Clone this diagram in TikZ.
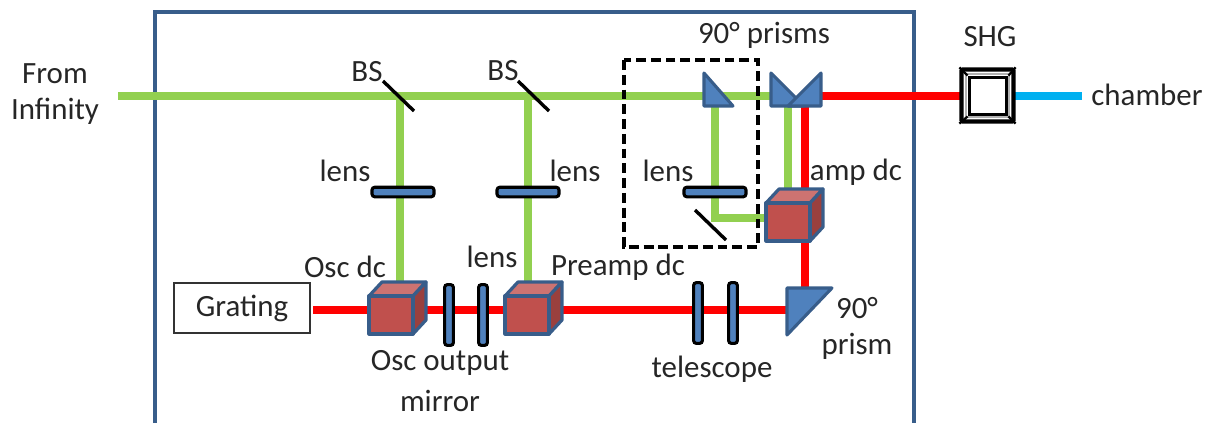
\documentclass[tikz,border=0pt]{standalone}
\usepackage{fontspec}
\setmainfont{Carlito}
\definecolor{grb}{HTML}{92D050}
\definecolor{rdb}{HTML}{FF0000}
\definecolor{blb}{HTML}{00B0F0}
\definecolor{frame}{HTML}{385D8A}
\definecolor{glass}{HTML}{4F81BD}
\definecolor{cubef}{HTML}{C0504D}
\definecolor{cubet}{HTML}{CD7371}
\definecolor{cubes}{HTML}{9A403E}
\definecolor{txt}{HTML}{262626}
\tikzset{
    beam/.style={line width=5pt},
    lbl/.style={font=\fontsize{22}{24}\selectfont,text=txt,inner sep=0pt},
    lensh/.style={draw=black,fill=glass,line width=2.2pt,rounded corners=2pt,minimum width=1.55cm,minimum height=0.24cm,inner sep=0pt},
    lensv/.style={draw=black,fill=glass,line width=2.2pt,rounded corners=2pt,minimum width=0.22cm,minimum height=1.52cm,inner sep=0pt},
    prism/.style={draw=frame,fill=glass,line width=2.2pt,line join=round},
    splitter/.style={black,line width=2.4pt}
}
\newcommand{\dccube}[1]{
    \begin{scope}[shift={(#1)},draw=frame,line width=2.3pt,line join=round]
        \filldraw[fill=cubet] (-22,-19) -- (-9,-33) -- (35,-33) -- (22,-19) -- cycle;
        \filldraw[fill=cubes] (22,-19) -- (35,-33) -- (35,5) -- (22,19) -- cycle;
        \filldraw[fill=cubef] (-22,-19) rectangle (22,19);
    \end{scope}
}
\begin{document}
\begin{tikzpicture}[x=0.025cm,y=-0.025cm]
            \useasboundingbox (0,0) rectangle (1206,423);
            \draw[frame,line width=2.4pt] (155,423) -- (155,12) -- (914,12) -- (914,423);

            % points on the beams
            \coordinate (infinity) at (118,96);
            \coordinate (bsa) at (400,96);
            \coordinate (bsb) at (528,96);
            \coordinate (pickoff) at (715,96);
            \coordinate (pairin) at (775,96);
            \coordinate (pairout) at (818,96);
            \coordinate (shgin) at (962,96);
            \coordinate (shgout) at (1013,96);
            \coordinate (blueend) at (1082,96);
            \coordinate (osctop) at (400,285);
            \coordinate (pretop) at (528,285);
            \coordinate (foldmid) at (715,218);
            \coordinate (ampin) at (770,218);
            \coordinate (pairdown) at (788,104);
            \coordinate (amptop) at (788,190);
            \coordinate (pairred) at (805,104);
            \coordinate (foldred) at (805,300);
            \coordinate (gratout) at (313,310);
            \coordinate (foldin) at (790,310);
            \coordinate (osc) at (391,315);
            \coordinate (pre) at (527,315);
            \coordinate (amp) at (788,222);

            \draw[beam,grb] (infinity) -- (bsa) -- (bsb) -- (pickoff) -- (pairin);
            \draw[beam,grb] (bsa) -- (osctop);
            \draw[beam,grb] (bsb) -- (pretop);
            \draw[beam,grb] (pickoff) -- (foldmid) -- (ampin);
            \draw[beam,grb] (pairdown) -- (amptop);
            \draw[beam,rdb] (pairout) -- (shgin);
            \draw[beam,blb] (shgout) -- (blueend);
            \draw[beam,rdb] (pairred) -- (foldred);
            \draw[beam,rdb] (gratout) -- (foldin);

            % beam splitters and fold mirror
            \draw[splitter] (383,81) coordinate (bsatop) -- (414,111) coordinate (bsabot);
            \draw[splitter] (518,81) coordinate (bsbtop) -- (549,111) coordinate (bsbbot);
            \draw[splitter] (695,210) coordinate (foldtop) -- (726,240) coordinate (foldbot);

            \node[lensh] (lensosc) at (403,192) {};
            \node[lensh] (lenspre) at (528,192) {};
            \node[lensh] (lensamp) at (715,192) {};
            \node[lensv] (mirrora) at (449,315) {};
            \node[lensv] (mirrorb) at (483,315) {};
            \node[lensv] (telea) at (698,313) {};
            \node[lensv] (teleb) at (733,313) {};

            % prisms
            \draw[prism] (704,73) -- (704,106) -- (733,106) -- cycle;
            \draw[prism] (771,73) -- (771,106) -- (804,106) -- cycle;
            \draw[prism] (821,73) -- (821,106) -- (788,106) -- cycle;
            \draw[prism] (787,288) -- (832,288) -- (787,335) -- cycle;

            \dccube{osc}
            \dccube{pre}
            \dccube{amp}

            \draw[black,line width=2.4pt,dash pattern=on 7pt off 3.5pt] (624,60) rectangle (758,247);

            % SHG crystal
            \node[draw=black,fill=white,line width=3pt,rounded corners=1pt,minimum size=1.3cm,inner sep=0pt] (shg) at (987.5,95.5) {};
            \draw[black!30,line width=1.2pt] (966,74) rectangle (1009,117);
            \node[draw=black,fill=white,line width=2.6pt,minimum size=0.93cm,inner sep=0pt] (shgcore) at (988,96) {};
            \draw[black,line width=1.6pt] (shg.north west) -- (shgcore.north west);
            \draw[black,line width=1.6pt] (shg.north east) -- (shgcore.north east);
            \draw[black,line width=1.6pt] (shg.south west) -- (shgcore.south west);
            \draw[black,line width=1.6pt] (shg.south east) -- (shgcore.south east);

            \node[draw=black!80,line width=0.8pt,minimum width=3.4cm,minimum height=1.25cm,inner sep=0pt,lbl] (grating) at (242,308) {Grating};

            \node[lbl] (fromt) at (55,74) {From};
            \node[lbl] (fromb) at (55,111) {Infinity};
            \node[lbl] (bslbla) at (367,72) {BS};
            \node[lbl] (bslblb) at (503,71) {BS};
            \node[lbl] (lenslbla) at (345,171) {lens};
            \node[lbl] (lenslblb) at (575,171) {lens};
            \node[lbl] (lenslblc) at (668,171) {lens};
            \node[lbl] (lenslbld) at (492,257) {lens};
            \node[lbl] (osclbl) at (345,267) {Osc dc};
            \node[lbl] (prelbl) at (618,267) {Preamp dc};
            \node[lbl] (amplbl) at (856,172) {amp dc};
            \node[lbl] (pairlbl) at (764,35) {90° prisms};
            \node[lbl] (shglbl) at (990,37) {SHG};
            \node[lbl] (chamlbl) at (1147,95) {chamber};
            \node[lbl] (outlbla) at (440,363) {Osc output};
            \node[lbl] (outlblb) at (440,401) {mirror};
            \node[lbl] (telelbl) at (712,369) {telescope};
            \node[lbl] (foldlbla) at (857,308) {90°};
            \node[lbl] (foldlblb) at (857,346) {prism};
        \end{tikzpicture}
\end{document}
